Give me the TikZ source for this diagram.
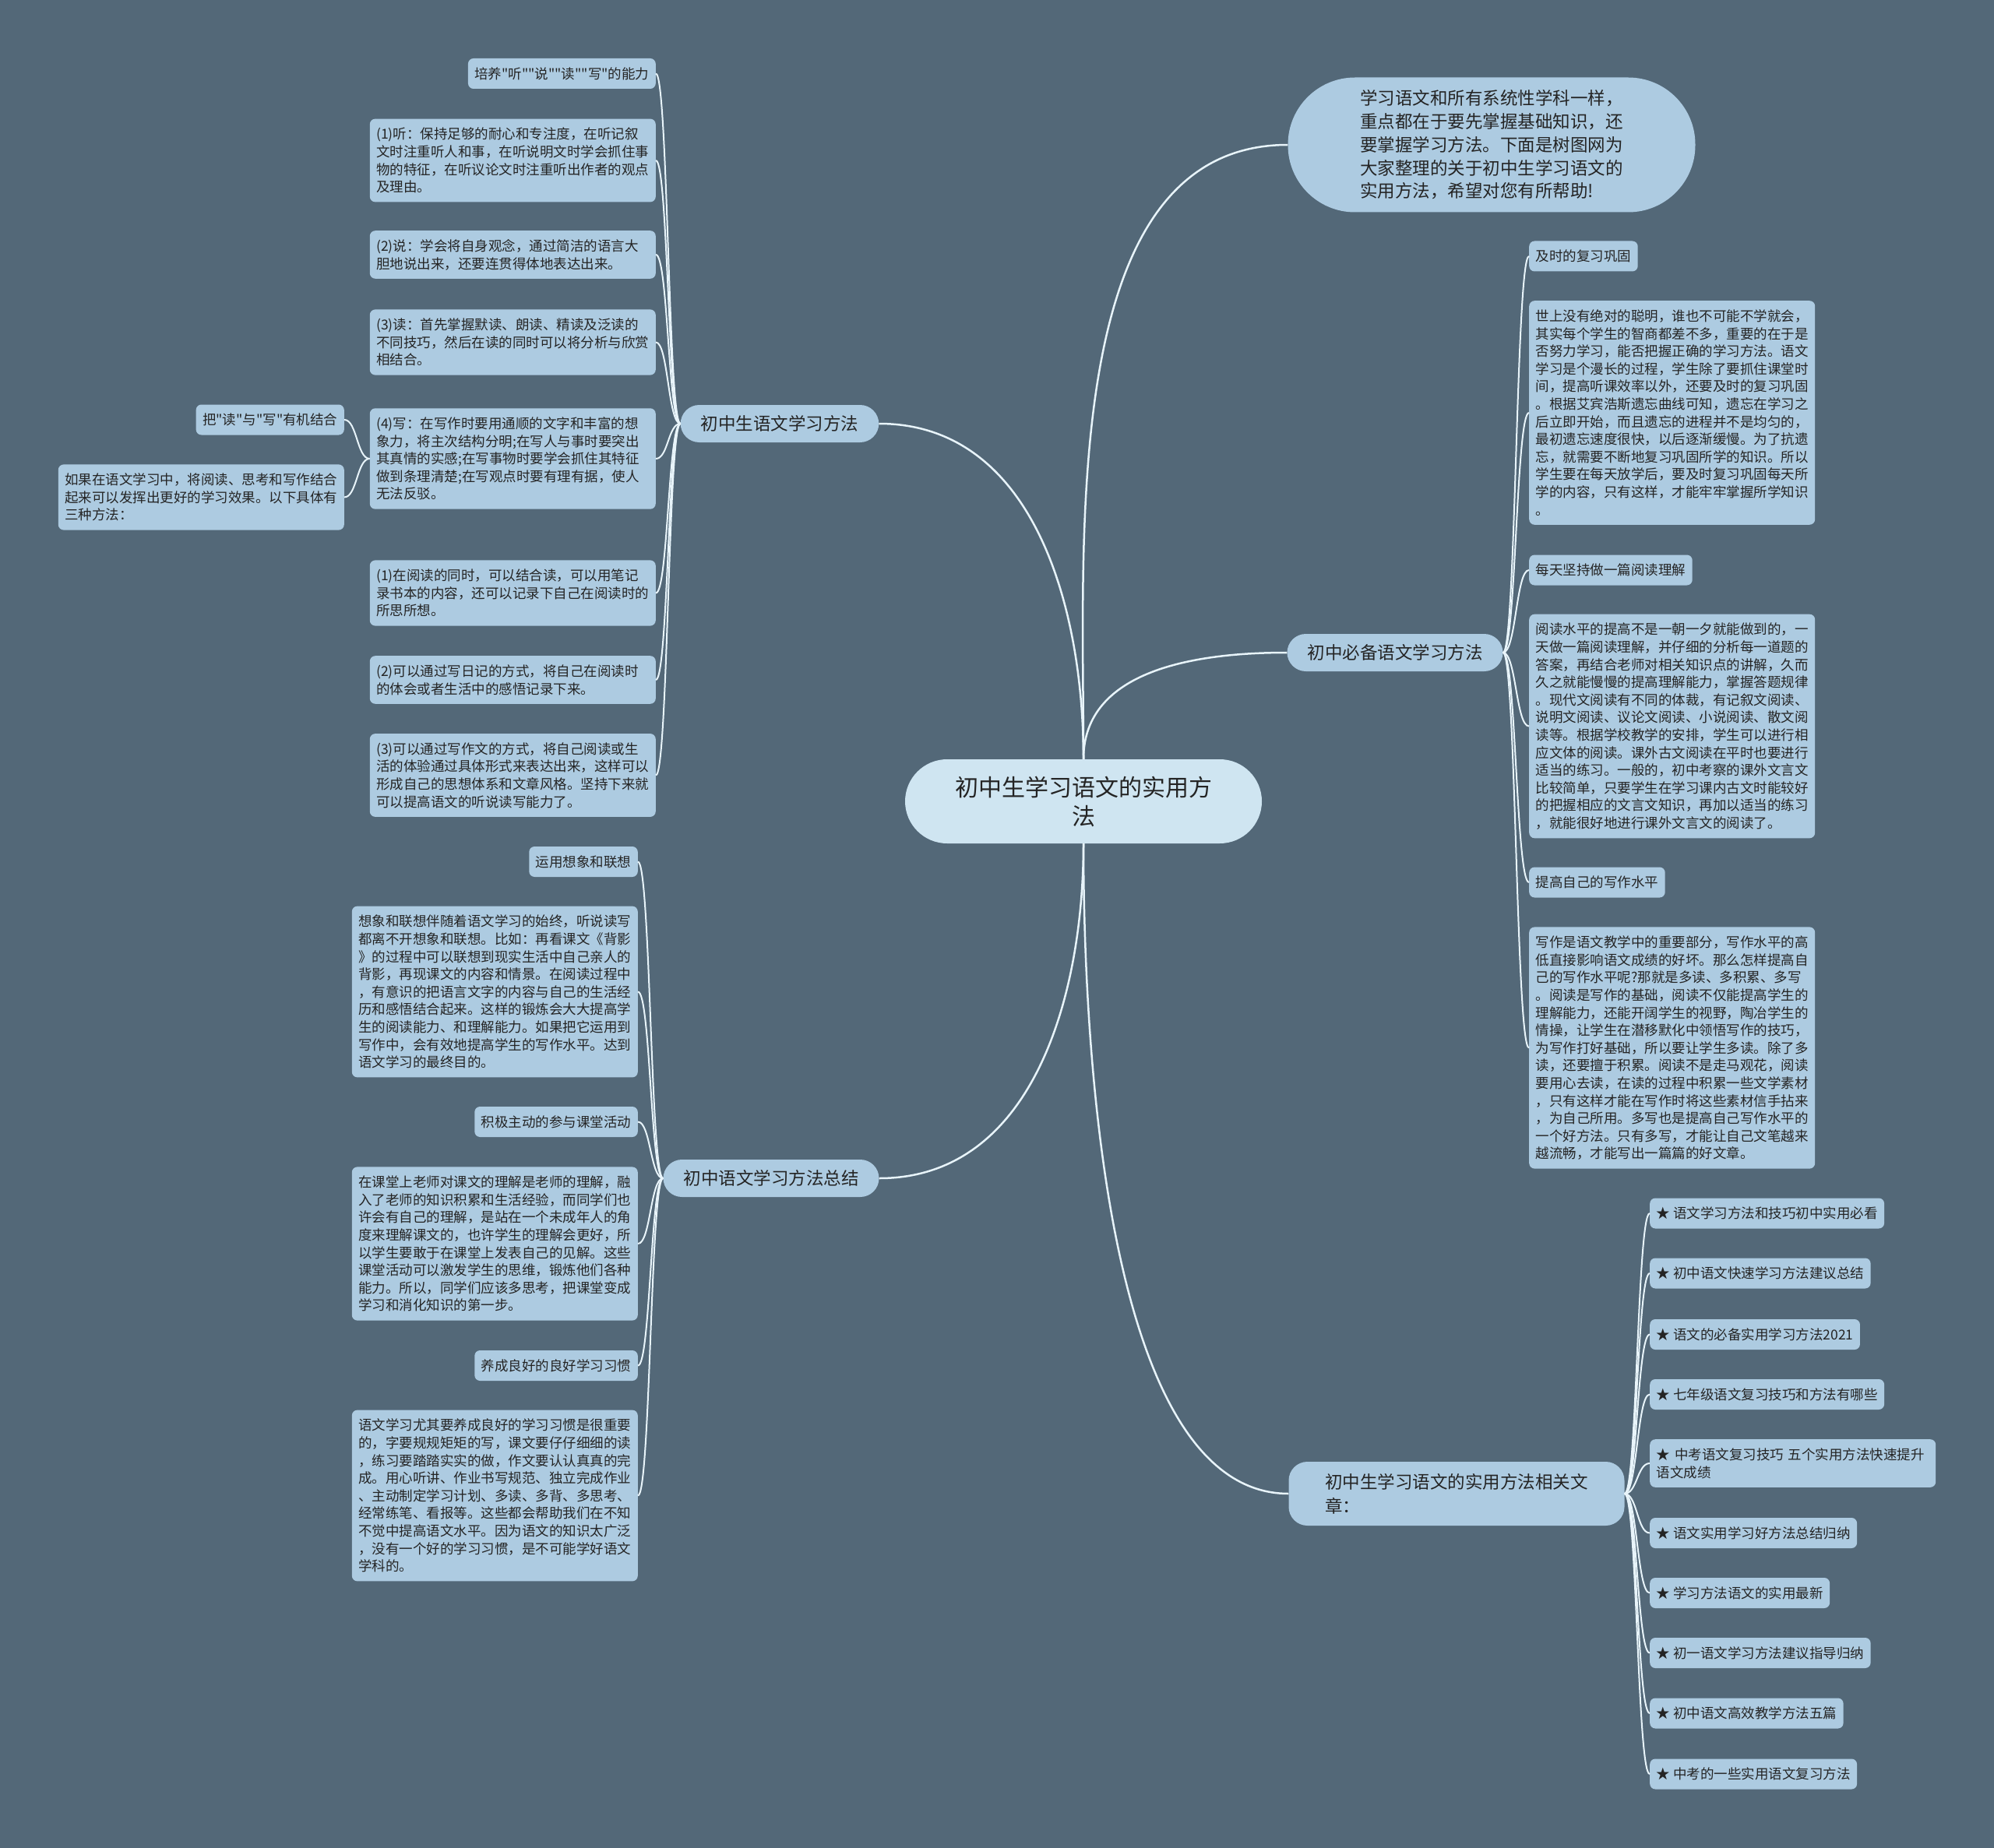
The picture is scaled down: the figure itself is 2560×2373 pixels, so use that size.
\documentclass[tikz,border=0pt]{standalone}
\usepackage{fontspec}
\newfontfamily\cjk{Noto Sans CJK SC}
\usetikzlibrary{calc}
\definecolor{figbg}{RGB}{83,104,120}
\definecolor{rootfill}{RGB}{207,229,241}
\definecolor{nodefill}{RGB}{173,203,225}
\definecolor{linkcol}{RGB}{232,244,250}
\definecolor{textcol}{RGB}{36,36,36}
\newcommand\mmstrut{\rule[-.2\baselineskip]{0pt}{\baselineskip}}
\tikzset{
  fig/.style={x=1pt,y=-1pt},
  root/.style={fill=rootfill,text=textcol,rounded corners=54pt,minimum width=458pt,
               minimum height=108pt,align=center,font=\cjk\fontsize{30}{37}\selectfont},
  topic/.style={fill=nodefill,text=textcol,rounded corners=24pt,minimum height=48pt,
                inner xsep=26pt,inner ysep=4pt,align=left,font=\cjk\fontsize{22.5}{31}\selectfont},
  lead/.style={topic,rounded corners=86pt,minimum width=523pt,minimum height=173pt,
               font=\cjk\fontsize{22.5}{29.7}\selectfont},
  leaf/.style={fill=nodefill,text=textcol,rounded corners=7pt,inner xsep=8.5pt,inner ysep=8.2pt,
               font=\cjk\fontsize{17.5}{22.6}\selectfont,
               execute at begin node=\mmstrut,execute at end node=\mmstrut},
  para/.style={leaf,text width=350pt,align=left},
  stem/.style={draw=linkcol,line width=2.5pt},
  twig/.style={draw=linkcol,line width=2pt,
               to path={let \p1=(\tikztostart),\p2=(\tikztotarget) in
                 .. controls ({(\x1+\x2)/2},\y1) and ({(\x1+\x2)/2},\y2) .. (\tikztotarget)}},
}

\begin{document}
\begin{tikzpicture}[fig]

\fill[figbg] (0,0) rectangle (2560,2373);
\useasboundingbox (0,0) rectangle (2560,2373);

% Centre and first level
\node[root] (root) at (1391,1029) {初中生学习语文的实用方\\法};
\node[lead] (intro) at (1915,186) {学习语文和所有系统性学科一样，\\重点都在于要先掌握基础知识，还\\要掌握学习方法。下面是树图网为\\大家整理的关于初中生学习语文的\\实用方法，希望对您有所帮助!};
\node[topic] (tlearn) at (1001,544) {初中生语文学习方法};
\node[topic] (tsum) at (990,1513) {初中语文学习方法总结};
\node[topic] (tmust) at (1791,838) {初中必备语文学习方法};
\node[topic,minimum width=431pt,minimum height=82pt] (trel) at (1870,1918) {初中生学习语文的实用方法相关文\\章：};

\draw[stem] (root.north) to[out=90,in=180,looseness=0.9] (intro.west);
\draw[stem] (root.north) to[out=90,in=0] (tlearn.east);
\draw[stem] (root.north) to[out=90,in=180] (tmust.west);
\draw[stem] (root.south) to[out=-90,in=0] (tsum.east);
\draw[stem] (root.south) to[out=-90,in=180,looseness=0.7] (trel.west);

% Left upper: 初中生语文学习方法
\node[leaf,anchor=east] (la) at (842,94.5) {培养"听""说""读""写"的能力};
\node[para,anchor=east] (lb) at (842,206) {(1)听：保持足够的耐心和专注度，在听记叙\\文时注重听人和事，在听说明文时学会抓住事\\物的特征，在听议论文时注重听出作者的观点\\及理由。};
\node[para,anchor=east] (lc) at (842,327) {(2)说：学会将自身观念，通过简洁的语言大\\胆地说出来，还要连贯得体地表达出来。};
\node[para,anchor=east] (ld) at (842,439.5) {(3)读：首先掌握默读、朗读、精读及泛读的\\不同技巧，然后在读的同时可以将分析与欣赏\\相结合。};
\node[para,anchor=east] (le) at (842,589) {(4)写：在写作时要用通顺的文字和丰富的想\\象力，将主次结构分明;在写人与事时要突出\\其真情的实感;在写事物时要学会抓住其特征\\做到条理清楚;在写观点时要有理有据，使人\\无法反驳。};
\node[para,anchor=east] (lf) at (842,761.5) {(1)在阅读的同时，可以结合读，可以用笔记\\录书本的内容，还可以记录下自己在阅读时的\\所思所想。};
\node[para,anchor=east] (lg) at (842,873) {(2)可以通过写日记的方式，将自己在阅读时\\的体会或者生活中的感悟记录下来。};
\node[para,anchor=east] (lh) at (842,995.5) {(3)可以通过写作文的方式，将自己阅读或生\\活的体验通过具体形式来表达出来，这样可以\\形成自己的思想体系和文章风格。坚持下来就\\可以提高语文的听说读写能力了。};
\node[leaf,anchor=east] (lea) at (442,539) {把"读"与"写"有机结合};
\node[para,anchor=east] (leb) at (442,638.5) {如果在语文学习中，将阅读、思考和写作结合\\起来可以发挥出更好的学习效果。以下具体有\\三种方法：};

\foreach \k in {la,lb,lc,ld,le,lf,lg,lh}
  \draw[twig] (tlearn.west) to (\k.east);
\draw[twig] (le.west) to (lea.east);
\draw[twig] (le.west) to (leb.east);

% Left lower: 初中语文学习方法总结
\node[leaf,anchor=east] (sa) at (819,1106.5) {运用想象和联想};
\node[para,anchor=east] (sb) at (819,1273.5) {想象和联想伴随着语文学习的始终，听说读写\\都离不开想象和联想。比如：再看课文《背影\\》的过程中可以联想到现实生活中自己亲人的\\背影，再现课文的内容和情景。在阅读过程中\\，有意识的把语言文字的内容与自己的生活经\\历和感悟结合起来。这样的锻炼会大大提高学\\生的阅读能力、和理解能力。如果把它运用到\\写作中，会有效地提高学生的写作水平。达到\\语文学习的最终目的。};
\node[leaf,anchor=east] (sc) at (819,1440.5) {积极主动的参与课堂活动};
\node[para,anchor=east] (sd) at (819,1597) {在课堂上老师对课文的理解是老师的理解，融\\入了老师的知识积累和生活经验，而同学们也\\许会有自己的理解，是站在一个未成年人的角\\度来理解课文的，也许学生的理解会更好，所\\以学生要敢于在课堂上发表自己的见解。这些\\课堂活动可以激发学生的思维，锻炼他们各种\\能力。所以，同学们应该多思考，把课堂变成\\学习和消化知识的第一步。};
\node[leaf,anchor=east] (se) at (819,1753.5) {养成良好的良好学习习惯};
\node[para,anchor=east] (sf) at (819,1920.5) {语文学习尤其要养成良好的学习习惯是很重要\\的，字要规规矩矩的写，课文要仔仔细细的读\\，练习要踏踏实实的做，作文要认认真真的完\\成。用心听讲、作业书写规范、独立完成作业\\、主动制定学习计划、多读、多背、多思考、\\经常练笔、看报等。这些都会帮助我们在不知\\不觉中提高语文水平。因为语文的知识太广泛\\，没有一个好的学习习惯，是不可能学好语文\\学科的。};

\foreach \k in {sa,sb,sc,sd,se,sf}
  \draw[twig] (tsum.west) to (\k.east);

% Right middle: 初中必备语文学习方法
\node[leaf,anchor=west] (ma) at (1963,329) {及时的复习巩固};
\node[para,anchor=west] (mb) at (1963,530) {世上没有绝对的聪明，谁也不可能不学就会，\\其实每个学生的智商都差不多，重要的在于是\\否努力学习，能否把握正确的学习方法。语文\\学习是个漫长的过程，学生除了要抓住课堂时\\间，提高听课效率以外，还要及时的复习巩固\\。根据艾宾浩斯遗忘曲线可知，遗忘在学习之\\后立即开始，而且遗忘的进程并不是均匀的，\\最初遗忘速度很快，以后逐渐缓慢。为了抗遗\\忘，就需要不断地复习巩固所学的知识。所以\\学生要在每天放学后，要及时复习巩固每天所\\学的内容，只有这样，才能牢牢掌握所学知识\\。};
\node[leaf,anchor=west] (mc) at (1963,732) {每天坚持做一篇阅读理解};
\node[para,anchor=west] (md) at (1963,932.5) {阅读水平的提高不是一朝一夕就能做到的，一\\天做一篇阅读理解，并仔细的分析每一道题的\\答案，再结合老师对相关知识点的讲解，久而\\久之就能慢慢的提高理解能力，掌握答题规律\\。现代文阅读有不同的体裁，有记叙文阅读、\\说明文阅读、议论文阅读、小说阅读、散文阅\\读等。根据学校教学的安排，学生可以进行相\\应文体的阅读。课外古文阅读在平时也要进行\\适当的练习。一般的，初中考察的课外文言文\\比较简单，只要学生在学习课内古文时能较好\\的把握相应的文言文知识，再加以适当的练习\\，就能很好地进行课外文言文的阅读了。};
\node[leaf,anchor=west] (me) at (1963,1133) {提高自己的写作水平};
\node[para,anchor=west] (mf) at (1963,1345.5) {写作是语文教学中的重要部分，写作水平的高\\低直接影响语文成绩的好坏。那么怎样提高自\\己的写作水平呢?那就是多读、多积累、多写\\。阅读是写作的基础，阅读不仅能提高学生的\\理解能力，还能开阔学生的视野，陶冶学生的\\情操，让学生在潜移默化中领悟写作的技巧，\\为写作打好基础，所以要让学生多读。除了多\\读，还要擅于积累。阅读不是走马观花，阅读\\要用心去读，在读的过程中积累一些文学素材\\，只有这样才能在写作时将这些素材信手拈来\\，为自己所用。多写也是提高自己写作水平的\\一个好方法。只有多写，才能让自己文笔越来\\越流畅，才能写出一篇篇的好文章。};

\foreach \k in {ma,mb,mc,md,me,mf}
  \draw[twig] (tmust.east) to (\k.west);

% Right lower: related articles
\node[leaf,anchor=west] (ra) at (2118,1558) {★ 语文学习方法和技巧初中实用必看};
\node[leaf,anchor=west] (rb) at (2118,1635) {★ 初中语文快速学习方法建议总结};
\node[leaf,anchor=west] (rc) at (2118,1713.5) {★ 语文的必备实用学习方法2021};
\node[leaf,anchor=west] (rd) at (2118,1790.5) {★ 七年级语文复习技巧和方法有哪些};
\node[para,anchor=west] (re) at (2118,1879) {★ 中考语文复习技巧 五个实用方法快速提升\\语文成绩};
\node[leaf,anchor=west] (rf) at (2118,1968.5) {★ 语文实用学习好方法总结归纳};
\node[leaf,anchor=west] (rg) at (2118,2045.5) {★ 学习方法语文的实用最新};
\node[leaf,anchor=west] (rh) at (2118,2122.5) {★ 初一语文学习方法建议指导归纳};
\node[leaf,anchor=west] (ri) at (2118,2200) {★ 初中语文高效教学方法五篇};
\node[leaf,anchor=west] (rj) at (2118,2278) {★ 中考的一些实用语文复习方法};

\foreach \k in {ra,rb,rc,rd,re,rf,rg,rh,ri,rj}
  \draw[twig] (trel.east) to (\k.west);

\end{tikzpicture}
\end{document}
